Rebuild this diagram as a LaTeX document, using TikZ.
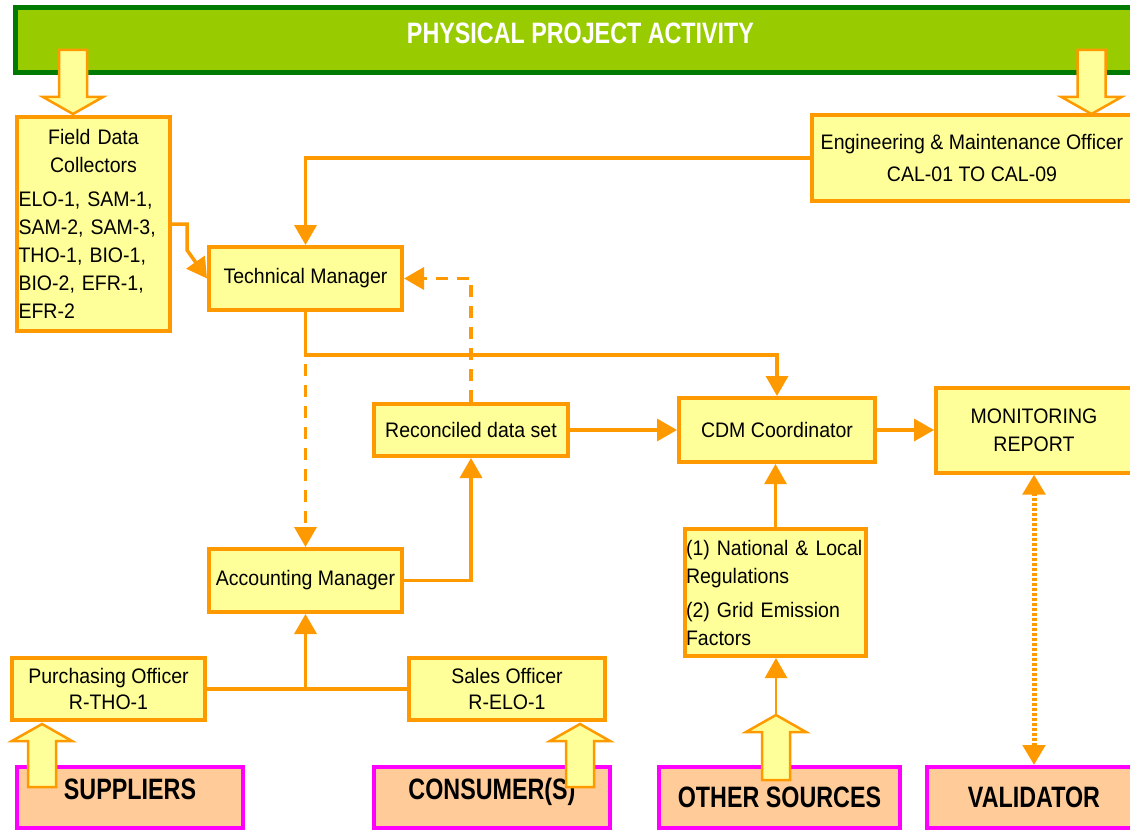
\documentclass[tikz,border=0pt]{standalone}
\usepackage{fontspec}
\setmainfont{Liberation Sans}[FakeStretch=0.93]
\newfontfamily\headfont{Liberation Sans}[FakeStretch=0.79]
\usetikzlibrary{arrows.meta,calc}
\definecolor{orng}{HTML}{FF9900}
\definecolor{lyel}{HTML}{FFFF99}
\definecolor{peach}{HTML}{FFCC99}
\definecolor{mag}{HTML}{FF00FF}
\definecolor{lgreen}{HTML}{99CC00}
\definecolor{dgreen}{HTML}{007A00}
\newcommand\hollowarrow[3]{%
  \draw[blockarr] (#1) -- ++(-30,{#2*17}) -- ++(16,0) -- ++(0,{#2*(#3-17)})
    -- ++(28,0) -- ++(0,{(-1)*(#2)*(#3-17)}) -- ++(16,0) -- cycle;}
\begin{document}
\begin{tikzpicture}[x=1pt,y=-1pt,
  >={Triangle[length=20pt,width=22pt]},
  box/.style={draw=orng, fill=lyel, line width=4pt, inner sep=1pt,
    font=\fontsize{21}{28}\selectfont, align=center},
  src/.style={draw=mag, fill=peach, line width=4pt, inner sep=0pt,
    font=\headfont\fontsize{29.5}{32}\selectfont\bfseries,
    minimum height=61pt, text height=21pt},
  banner/.style={draw=dgreen, fill=lgreen, line width=5pt, inner sep=0pt,
    text=white, font=\headfont\fontsize{29.5}{32}\selectfont\bfseries,
    text height=21pt, text depth=14pt},
  conn/.style={draw=orng, line width=3.5pt},
  thinconn/.style={draw=orng, line width=2.5pt},
  dashedline/.style={dash pattern=on 12pt off 9pt},
  dotline/.style={line width=5pt, dash pattern=on 3pt off 2pt},
  blockarr/.style={draw=orng, fill=lyel, line width=2.5pt, line join=miter}
]
\useasboundingbox (0,0) rectangle (1130,832);

% banner
\node[banner, minimum width=1130pt, minimum height=65pt] (act) at (580.5,40) {PHYSICAL PROJECT ACTIVITY};

% yellow boxes
\node[box, minimum width=153pt, minimum height=214pt, text width=150pt] (fdc) at (93.5,224)
  {Field Data\\Collectors\par\vspace{6pt}\raggedright ELO-1, SAM-1,\\SAM-2, SAM-3,\\THO-1, BIO-1,\\BIO-2, EFR-1,\\EFR-2\par};
\node[box, minimum width=193pt, minimum height=63pt] (tm) at (305.5,278.5) {Technical Manager};
\node[box, minimum width=320pt, minimum height=86pt] (emo) at (972,158)
  {Engineering \& Maintenance Officer\\[4pt]CAL-01 TO CAL-09};
\node[box, minimum width=194pt, minimum height=52pt] (rds) at (471,430) {Reconciled data set};
\node[box, minimum width=196pt, minimum height=64pt] (cdm) at (777,430) {CDM Coordinator};
\node[box, minimum width=196pt, minimum height=85pt] (mr) at (1034,430) {MONITORING\\REPORT};
\node[box, minimum width=193pt, minimum height=63pt] (am) at (305.5,580.5) {Accounting Manager};
\node[box, minimum width=193pt, minimum height=62pt, font=\fontsize{21}{26}\selectfont] (po) at (108.5,689)
  {Purchasing Officer\\R-THO-1};
\node[box, minimum width=196pt, minimum height=62pt, font=\fontsize{21}{26}\selectfont] (so) at (507,689)
  {Sales Officer\\R-ELO-1};
\node[box, minimum width=181pt, minimum height=127pt, text width=179pt, align=left] (reg) at (775.5,592.5)
  {(1) National \& Local\\Regulations\par\vspace{6pt}(2) Grid Emission\\Factors\par};

% top block arrows
\coordinate (tipfdc) at (73,114);
\coordinate (tipemo) at (1091.5,114);
\hollowarrow{tipfdc}{-1}{64}
\hollowarrow{tipemo}{-1}{64}

% connectors
\coordinate (k1) at (187,224);
\coordinate (k2) at (187,250);
\draw[conn,->] (fdc.east) -- (k1) -- (k2) -- (tm.west);
\draw[conn,->] (emo.west) -| (tm.north);
\draw[conn,->] (tm.south) -- ++(0,43) -| (cdm.north);
\draw[conn,dashedline,->] ($(tm.south)+(0,52)$) -- (am.north);
\draw[conn,dashedline,->] (rds.north) |- (tm.east);
\draw[conn,->] (rds.east) -- (cdm.west);
\draw[conn,->] (cdm.east) -- (mr.west);
\draw[conn,->] (am.east) -| (rds.south);
\coordinate (jn) at (am.south |- po.east);
\draw[conn] (po.east) -- (so.west);
\draw[conn,->] (jn) -- (am.south);
\draw[thinconn,->] (reg.north) -- (reg.north |- cdm.south);

% source boxes
\node[src, minimum width=226pt, text depth=17pt] (sup) at (130,797.5) {SUPPLIERS};
\node[src, minimum width=236pt, text depth=17pt] (con) at (492,797.5) {CONSUMER(S)};
\node[src, minimum width=241pt] (oth) at (779.5,797.5) {OTHER SOURCES};
\node[src, minimum width=214pt] (val) at (1034,797.5) {VALIDATOR};

\draw[conn,dotline,<->] (mr.south) -- (val.north);

% bottom block arrows
\coordinate (tipsup) at (42,724);
\coordinate (tipcon) at (580,724);
\coordinate (tipoth) at (776,715);
\hollowarrow{tipsup}{1}{63}
\hollowarrow{tipcon}{1}{63}
\hollowarrow{tipoth}{1}{65}
\draw[thinconn,->] (tipoth) -- (tipoth |- reg.south);
\end{tikzpicture}
\end{document}
